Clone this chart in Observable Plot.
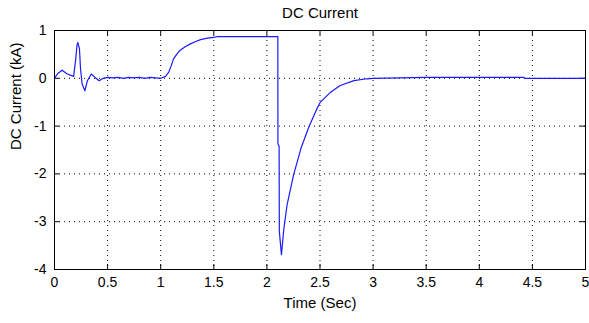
<!DOCTYPE html>
<html>
<head>
<meta charset="utf-8">
<script src="https://cdn.jsdelivr.net/npm/d3@7"></script>
<script src="https://cdn.jsdelivr.net/npm/@observablehq/plot@0.6"></script>
<style>
  html, body { margin: 0; padding: 0; background: #fff; }
  #chart svg { display: block; }
</style>
</head>
<body>
<div id="chart"></div>
<script>
// DC link current of the converter during the simulated run (kA vs. seconds)
const time = [
  0, 0.03, 0.072, 0.12, 0.18, 0.2, 0.212, 0.22, 0.228, 0.235, 0.245, 0.26, 0.286, 0.31,
  0.346, 0.38, 0.42, 0.46, 0.5, 0.55, 0.6, 0.65, 0.7, 0.75, 0.8, 0.85, 0.9, 0.95, 1.0,
  1.045, 1.076, 1.1, 1.12, 1.15, 1.18, 1.23, 1.28, 1.33, 1.375, 1.44, 1.5, 1.53, 1.8,
  2.103, 2.104, 2.115, 2.117, 2.137, 2.16, 2.19, 2.25, 2.32, 2.395, 2.47, 2.5, 2.6,
  2.69, 2.82, 2.94, 3.0, 3.5, 4.0, 4.42, 4.425, 5.0
];
const current = [
  0, 0.1, 0.17, 0.09, 0.04, 0.4, 0.7, 0.75, 0.68, 0.62, 0.2, -0.12, -0.26, -0.05,
  0.09, 0.02, -0.05, 0, 0.02, 0.01, 0.02, 0.0, 0.02, 0.01, 0.02, 0.0, 0.02, 0.01, 0.0,
  0.04, 0.13, 0.27, 0.4, 0.5, 0.58, 0.66, 0.72, 0.77, 0.81, 0.84, 0.855, 0.87, 0.87,
  0.87, -1.37, -1.42, -3.2, -3.69, -3.14, -2.65, -2.03, -1.47, -1.02, -0.64, -0.51, -0.29,
  -0.15, -0.05, -0.01, 0, 0.02, 0.02, 0.02, 0, 0
];
const xTicks = [0, 0.5, 1, 1.5, 2, 2.5, 3, 3.5, 4, 4.5, 5];
const yTicks = [-4, -3, -2, -1, 0, 1];

const series = time.map((t, i) => ({t, v: current[i]}));

const W = 589, H = 323;
const mL = 54, mR = 4, mT = 30, mB = 54;
const fw = W - mL - mR, fh = H - mT - mB;
const tickLen = 5;
const font = "'Liberation Sans', Arial, Helvetica, sans-serif";

const chart = Plot.plot({
  width: W,
  height: H,
  marginLeft: mL,
  marginRight: mR,
  marginTop: mT,
  marginBottom: mB,
  style: {fontFamily: font, background: "#fff", color: "#000"},
  x: {domain: [0, 5], ticks: xTicks, label: null},
  y: {domain: [-4, 1], ticks: yTicks, label: null},
  marks: [
    Plot.gridX(xTicks, {stroke: "#000", strokeOpacity: 1, strokeDasharray: "1,4"}),
    Plot.gridY(yTicks, {stroke: "#000", strokeOpacity: 1, strokeDasharray: "1,4"}),
    // inward tick marks on all four sides
    Plot.tickX(xTicks, {x: d => d, insetTop: fh - tickLen, stroke: "#000"}),
    Plot.tickX(xTicks, {x: d => d, insetBottom: fh - tickLen, stroke: "#000"}),
    Plot.tickY(yTicks, {y: d => d, insetLeft: fw - tickLen, stroke: "#000"}),
    Plot.tickY(yTicks, {y: d => d, insetRight: fw - tickLen, stroke: "#000"}),
    Plot.axisX(xTicks, {tickSize: 0, tickPadding: 8, fontSize: 14, tickFormat: d => String(d), label: null}),
    Plot.axisY(yTicks, {tickSize: 0, tickPadding: 8, fontSize: 14, tickFormat: d => String(d), label: null}),
    Plot.line(series, {x: "t", y: "v", stroke: "#1a1aff", strokeWidth: 1.2}),
    Plot.frame({stroke: "#000", strokeWidth: 1}),
    Plot.text(["DC Current"], {frameAnchor: "top", dy: -17, fontSize: 15, lineAnchor: "middle", fill: "#000"}),
    Plot.text(["Time (Sec)"], {frameAnchor: "bottom", dy: 34, fontSize: 15, lineAnchor: "middle", fill: "#000"}),
    Plot.text(["DC Current (kA)"], {frameAnchor: "left", dx: -38, rotate: -90, fontSize: 15, lineAnchor: "middle", fill: "#000"})
  ]
});

document.getElementById("chart").appendChild(chart);
</script>
</body>
</html>
